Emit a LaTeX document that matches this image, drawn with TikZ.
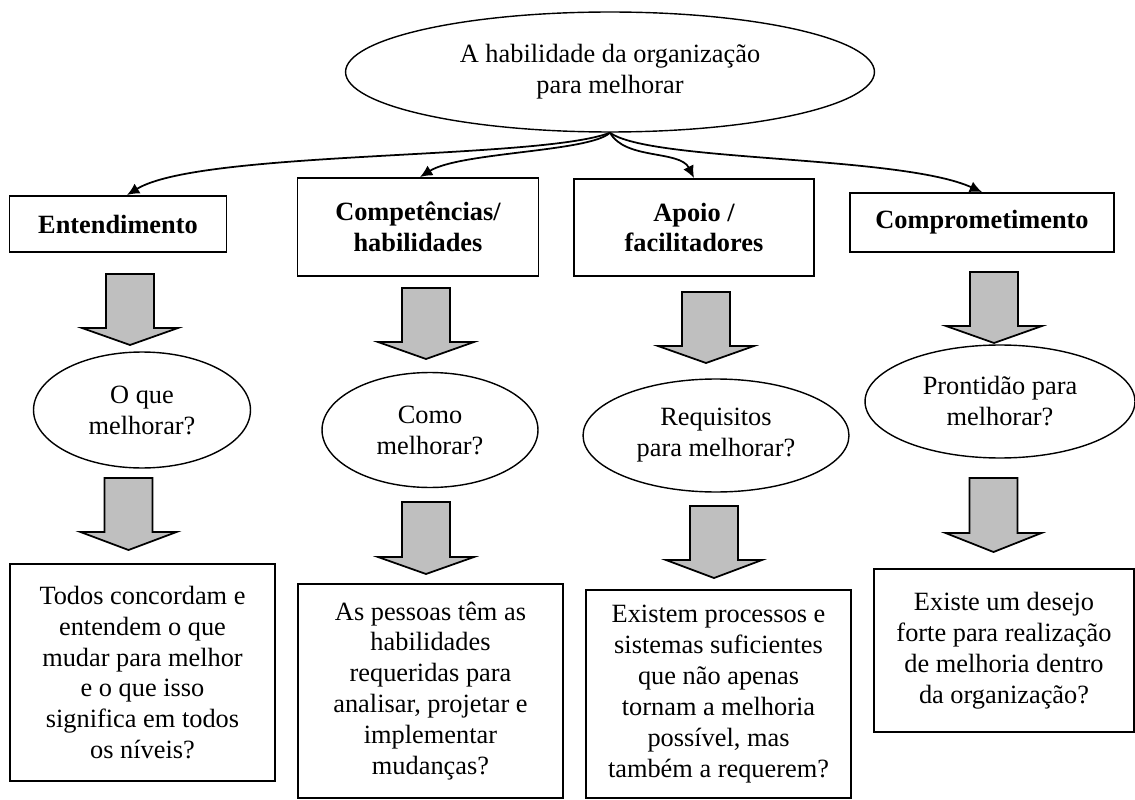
\documentclass[tikz,border=0pt]{standalone}
\usepackage{fontspec}
\setmainfont{Liberation Serif}
\usepackage{tikz}
\usetikzlibrary{positioning,shapes.geometric,arrows.meta}

\tikzset{
  hbox/.style={draw, line width=1.1pt, align=center, font=\fontsize{15}{17.5}\selectfont\bfseries, inner sep=0pt},
  qbox/.style={draw, line width=1.1pt, align=center, font=\fontsize{15}{17.6}\selectfont, inner sep=0pt},
  qell/.style={ellipse, draw, line width=0.8pt, align=center, font=\fontsize{15}{17.6}\selectfont, inner sep=0pt},
  conn/.style={-{Latex[length=7pt,width=6.5pt]}, line width=1pt},
  barrow/.style={draw, line width=1pt, fill=black!25}
}
% block arrow: center x, top of shaft, wing line, tip
\newcommand{\bigarrow}[4]{%
  \draw[barrow] (#1-24,#2) -- (#1+24,#2) -- (#1+24,#3) -- (#1+48,#3)
    -- (#1,#4) -- (#1-48,#3) -- (#1-24,#3) -- cycle;}

\begin{document}
\begin{tikzpicture}[x=0.02cm,y=-0.02cm]
\useasboundingbox (0,0) rectangle (1135,800);

\node[qell, minimum width=10.58cm, minimum height=2.4cm] (top) at (610,72)
  {A habilidade da organização\\para melhorar};

\node[hbox, minimum width=4.34cm, minimum height=1.12cm] (h_ent) at (118,224) {Entendimento};
\node[hbox, minimum width=4.82cm, minimum height=1.96cm] (h_comp) at (418,227) {Competências/\\habilidades};
\node[hbox, minimum width=4.8cm, minimum height=1.94cm] (h_apoio) at (694,227.5) {Apoio /\\facilitadores};
\node[hbox, minimum width=5.28cm, minimum height=1.18cm] (h_compr) at (982,222.5) {Comprometimento};

\draw[conn] (top.south) .. controls (540,160) and (200,150) .. ([xshift=0.18cm]h_ent.north);
\draw[conn] (top.south) .. controls (590,152) and (460,152) .. ([xshift=0.04cm]h_comp.north);
\draw[conn] (top.south) .. controls (625,160) and (680,150) .. (h_apoio.north);
\draw[conn] (top.south) .. controls (650,162) and (900,155) .. (h_compr.north);

\bigarrow{130}{274}{328}{345}
\bigarrow{426}{288}{342}{359}
\bigarrow{706}{292}{346}{363}
\bigarrow{994}{272}{326}{343}

\node[qell, minimum width=4.34cm, minimum height=2.32cm] (q_ent) at (142,410) {O que\\melhorar?};
\node[qell, minimum width=4.32cm, minimum height=2.3cm] (q_comp) at (430,430) {Como\\melhorar?};
\node[qell, minimum width=5.32cm, minimum height=2.26cm] (q_apoio) at (716,435.5) {Requisitos\\para melhorar?};
\node[qell, minimum width=5.4cm, minimum height=2.26cm] (q_compr) at (1000,401.5) {Prontidão para\\melhorar?};

\bigarrow{128.5}{478}{532}{550}
\bigarrow{426}{502}{557}{574}
\bigarrow{714}{506}{560}{578}
\bigarrow{993.5}{478}{533}{552}

\node[qbox, minimum width=5.3cm, minimum height=4.34cm] (r_ent) at (142.5,672.5)
  {Todos concordam e\\entendem o que\\mudar para melhor\\e o que isso\\significa em todos\\os níveis?};
\node[qbox, minimum width=5.3cm, minimum height=4.28cm] (r_comp) at (430.5,691)
  {As pessoas têm as\\habilidades\\requeridas para\\analisar, projetar e\\implementar\\mudanças?};
\node[qbox, minimum width=5.3cm, minimum height=4.16cm] (r_apoio) at (718.5,694)
  {Existem processos e\\sistemas suficientes\\que não apenas\\tornam a melhoria\\possível, mas\\também a requerem?};
\node[qbox, minimum width=5.2cm, minimum height=3.26cm] (r_compr) at (1004,650.5)
  {Existe um desejo\\forte para realização\\de melhoria dentro\\da organização?};
\end{tikzpicture}
\end{document}
